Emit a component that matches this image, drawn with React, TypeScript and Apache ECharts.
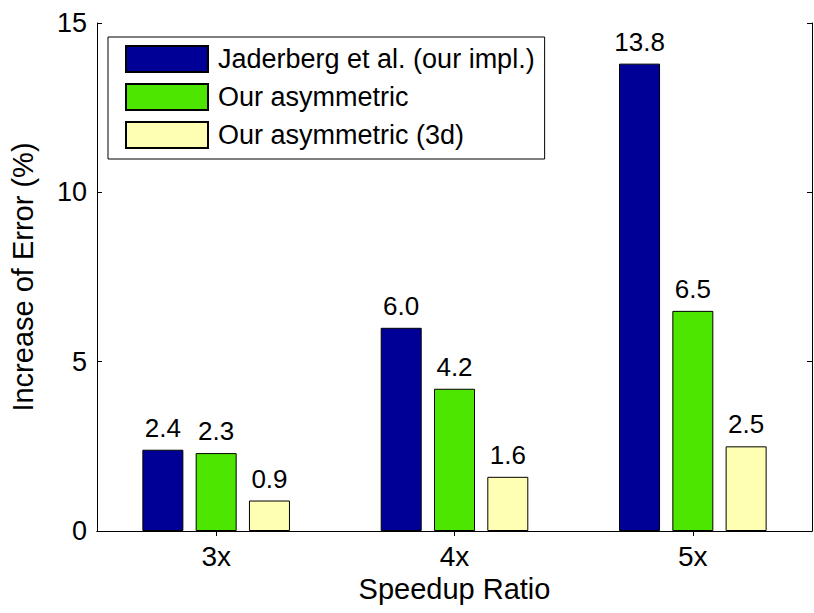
import React, { useEffect, useRef } from "react";
import * as echarts from "echarts";

const categories = ["3x", "4x", "5x"];
const seriesNames = ["Jaderberg et al. (our impl.)", "Our asymmetric", "Our asymmetric (3d)"];
const jaderberg = [2.4, 6.0, 13.8];
const asymmetric = [2.3, 4.2, 6.5];
const asymmetric3d = [0.9, 1.6, 2.5];
const colors = ["#000096", "#4de600", "#ffffb3"];
const yTicks = { min: 0, max: 15, interval: 5 };

const FONT = "'Liberation Sans', Arial, Helvetica, sans-serif";

export default function App() {
  const ref = useRef<HTMLDivElement>(null);
  useEffect(() => {
    if (!ref.current) return;
    const chart = echarts.init(ref.current, null, { renderer: "svg" });
    const values = [jaderberg, asymmetric, asymmetric3d];
    chart.setOption({
      animation: false,
      backgroundColor: "#fff",
      textStyle: { fontFamily: FONT, color: "#000" },
      grid: { left: 95, right: 2, top: 23, bottom: 82, containLabel: false },
      legend: {
        orient: "vertical",
        left: 108,
        top: 37,
        align: "left",
        borderColor: "#000",
        borderWidth: 1,
        backgroundColor: "#fff",
        padding: [8, 10, 10, 17],
        itemWidth: 82,
        itemHeight: 26,
        itemGap: 10,
        icon: "rect",
        textStyle: { fontSize: 27, color: "#000", fontFamily: FONT, padding: [0, 0, 0, 5] },
        data: seriesNames,
      },
      xAxis: [
        {
          type: "category",
          data: categories,
          position: "bottom",
          name: "Speedup Ratio",
          nameLocation: "middle",
          nameGap: 43,
          nameTextStyle: { fontSize: 29, color: "#000", fontFamily: FONT },
          axisLine: { show: true, lineStyle: { color: "#000", width: 1 } },
          axisTick: { show: true, inside: true, length: 5, alignWithLabel: true, lineStyle: { color: "#000" } },
          axisLabel: { fontSize: 28, color: "#000", margin: 11, fontFamily: FONT },
        },
        {
          type: "category",
          data: categories,
          position: "top",
          axisLine: { show: true, lineStyle: { color: "#000", width: 1 } },
          axisTick: { show: true, inside: true, length: 5, alignWithLabel: true, lineStyle: { color: "#000" } },
          axisLabel: { show: false },
        },
      ],
      yAxis: [
        {
          type: "value",
          min: yTicks.min,
          max: yTicks.max,
          interval: yTicks.interval,
          position: "left",
          name: "Increase of Error (%)",
          nameLocation: "middle",
          nameGap: 60,
          nameTextStyle: { fontSize: 29, color: "#000", fontFamily: FONT },
          axisLine: { show: true, lineStyle: { color: "#000", width: 1 } },
          axisTick: { show: true, inside: true, length: 5, lineStyle: { color: "#000" } },
          axisLabel: { fontSize: 27, color: "#000", margin: 10, fontFamily: FONT },
          splitLine: { show: false },
        },
        {
          type: "value",
          min: yTicks.min,
          max: yTicks.max,
          interval: yTicks.interval,
          position: "right",
          axisLine: { show: true, lineStyle: { color: "#000", width: 1 } },
          axisTick: { show: true, inside: true, length: 5, lineStyle: { color: "#000" } },
          axisLabel: { show: false },
          splitLine: { show: false },
        },
      ],
      series: seriesNames.map((name, i) => ({
        name,
        type: "bar",
        xAxisIndex: 0,
        yAxisIndex: 0,
        data: values[i],
        barWidth: 41,
        barGap: "30%",
        itemStyle: { color: colors[i], borderColor: "#000", borderWidth: 1 },
        label: {
          show: true,
          position: "top",
          distance: 9,
          fontSize: 26,
          color: "#000",
          fontFamily: FONT,
          formatter: (p: any) => Number(p.value).toFixed(1),
        },
      })),
    });
    return () => chart.dispose();
  }, []);
  return <div ref={ref} style={{ width: 814, height: 613, position: "absolute", left: 0, top: 0 }} />;
}
